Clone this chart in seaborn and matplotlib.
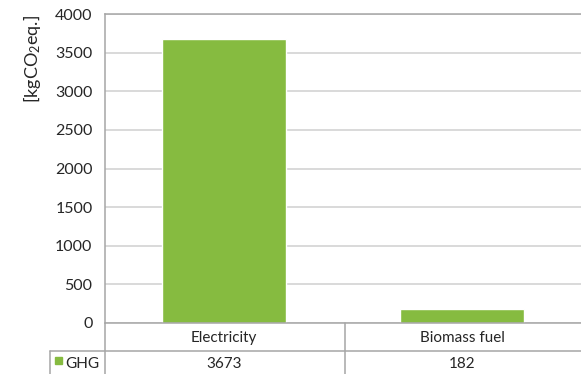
import matplotlib
matplotlib.use("Agg")
import matplotlib.pyplot as plt
import seaborn as sns
import pandas as pd
from matplotlib.lines import Line2D
from matplotlib.patches import Rectangle

categories = ["Electricity", "Biomass fuel"]
ghg_values = [3673, 182]
series_name = "GHG"
y_ticks = [0, 500, 1000, 1500, 2000, 2500, 3000, 3500, 4000]

df = pd.DataFrame({"category": categories, "value": ghg_values})

sns.set_theme(style="white")
plt.rcParams["font.family"] = ["Lato", "DejaVu Sans"]
plt.rcParams["mathtext.fontset"] = "custom"
plt.rcParams["mathtext.rm"] = "Lato"
plt.rcParams["mathtext.it"] = "Lato"

W, H = 581, 374
fig = plt.figure(figsize=(W / 100, H / 100), dpi=100)
left, right, top, bottom = 105, 581, 14, 323
ax = fig.add_axes([left / W, 1 - bottom / H, (right - left) / W, (bottom - top) / H])

bar_color = "#86BB40"
sns.barplot(data=df, x="category", y="value", color=bar_color, width=0.52,
            saturation=1, ax=ax, zorder=3)

ax.set_ylim(0, 4000)
ax.set_xlim(-0.5, 1.5)
ax.set_yticks(y_ticks)
ax.set_yticklabels([str(t) for t in y_ticks], fontsize=11.5, color="#262626")
ax.tick_params(axis="y", length=0, pad=9)
ax.set_xticks([])
ax.set_xlabel("")
ax.set_ylabel("")
ax.yaxis.grid(True, color="#CFCFCF", linewidth=1.1, zorder=0)
ax.set_axisbelow(True)

for s in ["right", "bottom"]:
    ax.spines[s].set_visible(False)
ax.spines["top"].set_color("#A6A6A6")
ax.spines["left"].set_color("#A6A6A6")
ax.spines["top"].set_linewidth(1.1)
ax.spines["left"].set_linewidth(1.1)

# y label
fig.text(32 / W, 1 - 59 / H, "[kgCO$_2$eq.]", rotation=90, ha="center", va="center",
         fontsize=13, color="#262626")

def fx(px):
    return px / W

def fy(py):
    return 1 - py / H

lc = "#A6A6A6"
lines = [
    ((left, right), (bottom, bottom)),
    ((50, right), (351, 351)),
    ((left, left), (bottom, H)),
    ((345, 345), (bottom, H)),
    ((50, 50), (351, H)),
]
for xs, ys in lines:
    fig.add_artist(Line2D([fx(x) for x in xs], [fy(y) for y in ys], color=lc, linewidth=1.1))

tr = ax.get_xaxis_transform()
for i, (cat, v) in enumerate(zip(categories, ghg_values)):
    t1 = ax.text(i, -(338 - bottom) / (bottom - top), cat, transform=tr, ha="center", va="center",
                 fontsize=11, color="#262626", clip_on=False)
    t2 = ax.text(i, -(364 - bottom) / (bottom - top), str(v), transform=tr, ha="center", va="center",
                 fontsize=11, color="#262626", clip_on=False)

fig.add_artist(Rectangle((fx(55), fy(364)), 7 / W, 7 / H, color=bar_color, transform=fig.transFigure))
fig.text(fx(65), fy(364), series_name, ha="left", va="center", fontsize=11, color="#262626")

fig.savefig("out.png", dpi=100)
